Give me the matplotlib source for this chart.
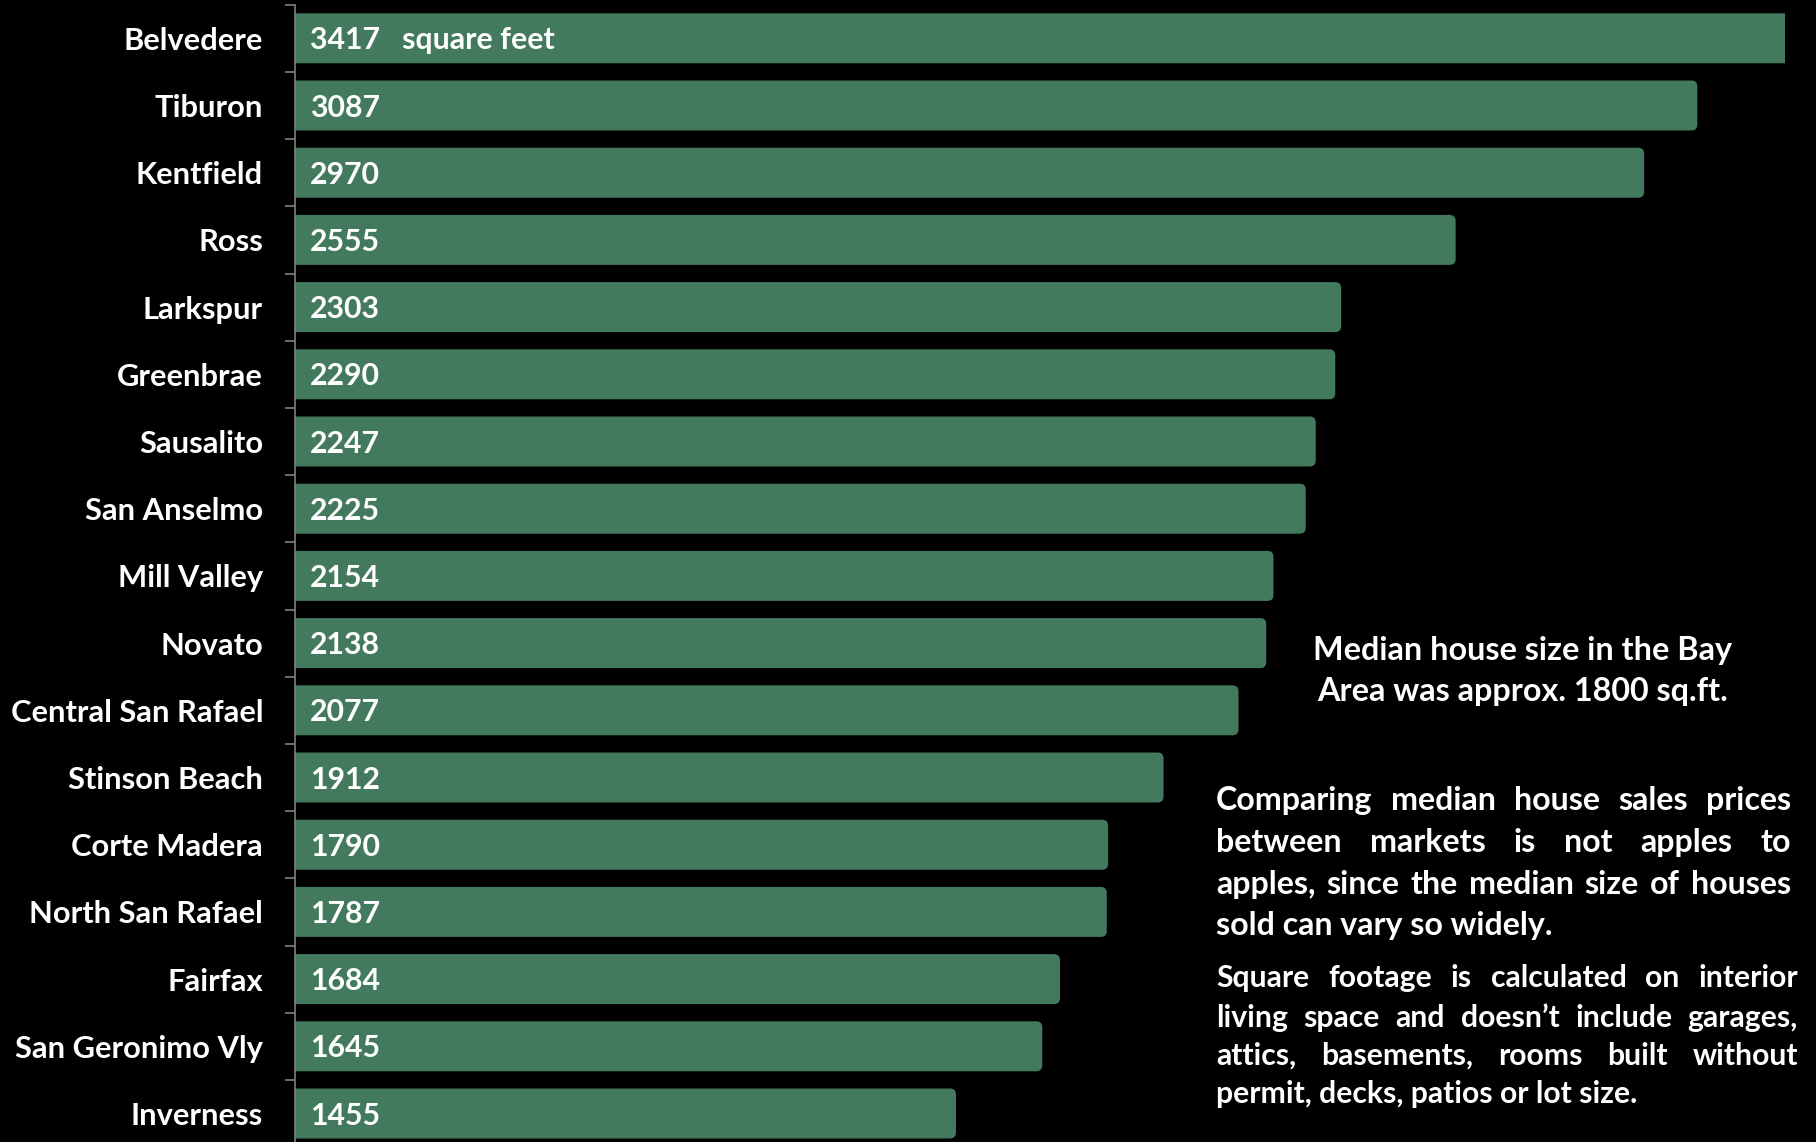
import numpy as np
import matplotlib
matplotlib.use("Agg")
import matplotlib.pyplot as plt
from matplotlib.patches import FancyBboxPatch

# --- data ---
areas = ["Belvedere", "Tiburon", "Kentfield", "Ross", "Larkspur", "Greenbrae",
         "Sausalito", "San Anselmo", "Mill Valley", "Novato", "Central San Rafael",
         "Stinson Beach", "Corte Madera", "North San Rafael", "Fairfax",
         "San Geronimo Vly", "Inverness"]
sqft = [3417, 3087, 2970, 2555, 2303, 2290, 2247, 2225, 2154, 2138, 2077,
        1912, 1790, 1787, 1684, 1645, 1455]
unit = "square feet"

note_top = ["Median house size in the Bay", "Area was approx. 1800 sq.ft."]
note_p1 = ["Comparing median house sales prices",
           "between markets is not apples to",
           "apples, since the median size of houses",
           "sold can vary so widely."]
note_p2 = ["Square footage is calculated on interior",
           "living space and doesn\u2019t include garages,",
           "attics, basements, rooms built without",
           "permit, decks, patios or lot size."]

# --- style ---
FONT = ["Lato", "DejaVu Sans"]
plt.rcParams["font.family"] = FONT
plt.rcParams["font.weight"] = "bold"
BAR = "#437A5E"
GREY = "#808080"
W, H = 1816, 1142

fig = plt.figure(figsize=(W / 100, H / 100), dpi=100, facecolor="black")
top = 1 - 4.7 / H
ax_h = 17 * 67.2 / H
ax = fig.add_axes([295 / W, top - ax_h, (1785 - 295) / W, ax_h])
ax.set_facecolor("black")

y = np.arange(len(areas))
bars = ax.barh(y, sqft, height=0.744, color=BAR)
ax.set_xlim(0, 3280)
ax.set_ylim(len(areas) - 0.5, -0.5)

# swap the plain rectangles for ones with rounded ends
p0 = ax.transData.transform((0, 0))
p1 = ax.transData.transform((1, 1))
px_x, px_y = p1[0] - p0[0], abs(p1[1] - p0[1])
asp = px_x / px_y
rx = 6 / px_x
for r in bars:
    r.set_visible(False)
    fb = FancyBboxPatch((r.get_x() - rx, r.get_y()), r.get_width() + rx, r.get_height(),
                        boxstyle=f"round,pad=0,rounding_size={rx}",
                        mutation_aspect=asp, fc=BAR, ec="none")
    ax.add_patch(fb)

# value labels at the base of each bar
for i, v in enumerate(sqft):
    txt = f"{v}   {unit}" if i == 0 else f"{v}"
    ax.annotate(txt, xy=(0, i), xytext=(11, -1.5), textcoords="offset points",
                ha="left", va="center", color="white", fontsize=21.8, fontweight="bold")

# axes
for s in ["top", "right", "bottom"]:
    ax.spines[s].set_visible(False)
ax.spines["left"].set_color(GREY)
ax.spines["left"].set_linewidth(1.2)
ax.xaxis.set_visible(False)
ax.set_yticks(y)
ax.set_yticklabels(areas, color="white", fontsize=22.2, fontweight="bold")
ax.tick_params(axis="y", which="major", length=0, pad=23)
ax.set_yticks(np.arange(-0.5, len(areas)), minor=True)
ax.tick_params(axis="y", which="minor", length=7.2, width=1.2, color=GREY)

# --- notes on the right ---
renderer = fig.canvas.get_renderer()


def fig_text(x, yb, s, size, **kw):
    return fig.text(x / W, 1 - yb / H, s, color="white", fontsize=size,
                    fontweight="bold", va="baseline", **kw)


def justified(lines, x0, x1, baselines, size):
    for k, (line, yb) in enumerate(zip(lines, baselines)):
        if k == len(lines) - 1:
            fig_text(x0, yb, line, size, ha="left")
            continue
        words = line.split()
        texts = [fig_text(x0, yb, w, size, ha="left") for w in words]
        widths = [t.get_window_extent(renderer).width for t in texts]
        gap = (x1 - x0 - sum(widths)) / (len(words) - 1)
        x = x0
        for t, w in zip(texts, widths):
            t.set_x(x / W)
            x += w + gap


for line, yb in zip(note_top, [660, 701]):
    fig_text(1523, yb, line, 23.3, ha="center")

justified(note_p1, 1216, 1791, [810, 852, 894, 935], 23.1)
justified(note_p2, 1216, 1798, [987, 1027, 1065, 1103], 21.7)

fig.savefig("out.png", dpi=100, facecolor="black")
